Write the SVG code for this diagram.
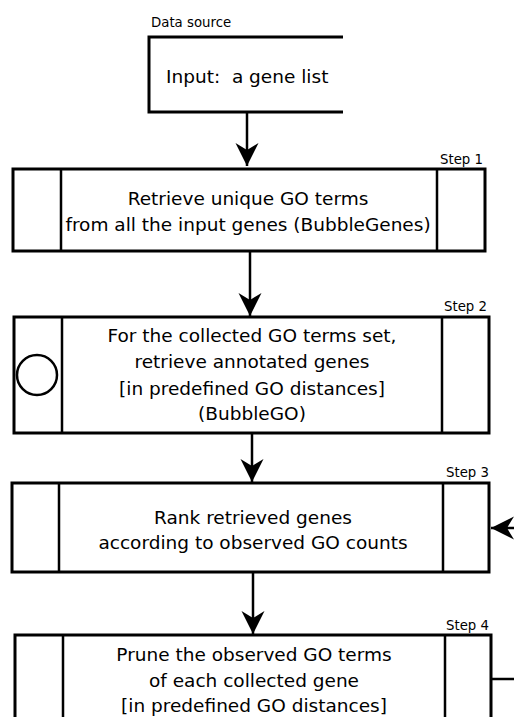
<svg xmlns="http://www.w3.org/2000/svg" width="514" height="717" viewBox="0 0 514 717">
<style>
.box{fill:#fff;stroke:#000;stroke-width:3}
.div{stroke:#000;stroke-width:2.5;fill:none}
.t{font-family:"DejaVu Sans",Verdana,sans-serif;font-size:18.5px;fill:#000;text-anchor:middle}
.s{font-family:"DejaVu Sans",Verdana,sans-serif;font-size:13.3px;fill:#000}
.c{stroke:#000;stroke-width:2.5;fill:none}
</style>
<defs>
<marker id="ah" markerUnits="userSpaceOnUse" markerWidth="30" markerHeight="30" refX="0" refY="0" orient="auto" overflow="visible">
<path d="M0,0 L-23,-11.5 L-16,0 L-23,11.5 Z" fill="#000"/>
</marker>
</defs>
<rect width="514" height="717" fill="#fff"/>
<g id="datasource">
<text class="s" x="151" y="27">Data source</text>
<path class="div" style="stroke-width:3" d="M343,37 H149 V112 H343"/>
<text class="t" x="166" y="83" style="text-anchor:start">Input:&#160; a gene list</text>
</g>
<g id="step1">
<rect class="box" x="13" y="169" width="472" height="82"/>
<path class="div" d="M61,169 V251 M437,169 V251"/>
<text class="s" x="483" y="164" text-anchor="end">Step 1</text>
<text class="t" x="248" y="205">Retrieve unique GO terms</text>
<text class="t" x="248" y="231">from all the input genes (BubbleGenes)</text>
</g>
<g id="step2">
<rect class="box" x="14" y="317" width="475" height="116"/>
<path class="div" d="M62,317 V433 M442,317 V433"/>
<circle cx="37" cy="375" r="20" fill="none" stroke="#000" stroke-width="2.5"/>
<text class="s" x="487" y="311" text-anchor="end">Step 2</text>
<text class="t" x="252" y="342">For the collected GO terms set,</text>
<text class="t" x="252" y="368">retrieve annotated genes</text>
<text class="t" x="252" y="395">[in predefined GO distances]</text>
<text class="t" x="252" y="420">(BubbleGO)</text>
</g>
<g id="step3">
<rect class="box" x="12" y="483" width="477" height="89"/>
<path class="div" d="M59,483 V572 M443,483 V572"/>
<text class="s" x="489" y="477" text-anchor="end">Step 3</text>
<text class="t" x="253" y="524">Rank retrieved genes</text>
<text class="t" x="253" y="549">according to observed GO counts</text>
</g>
<g id="step4">
<path class="box" d="M15,720 V635 H491 V720"/>
<path class="div" d="M63,635 V720 M445,635 V720"/>
<text class="s" x="489" y="630" text-anchor="end">Step 4</text>
<text class="t" x="254" y="661">Prune the observed GO terms</text>
<text class="t" x="254" y="687">of each collected gene</text>
<text class="t" x="254" y="712">[in predefined GO distances]</text>
</g>
<g id="connectors">
<path class="c" d="M247,112 V166" marker-end="url(#ah)"/>
<path class="c" d="M250,251 V316" marker-end="url(#ah)"/>
<path class="c" d="M252,433 V482" marker-end="url(#ah)"/>
<path class="c" d="M253,572 V634" marker-end="url(#ah)"/>
<path class="c" d="M514,528 H491" marker-end="url(#ah)"/>
<path class="c" d="M491,679 H514"/>
</g>
</svg>
